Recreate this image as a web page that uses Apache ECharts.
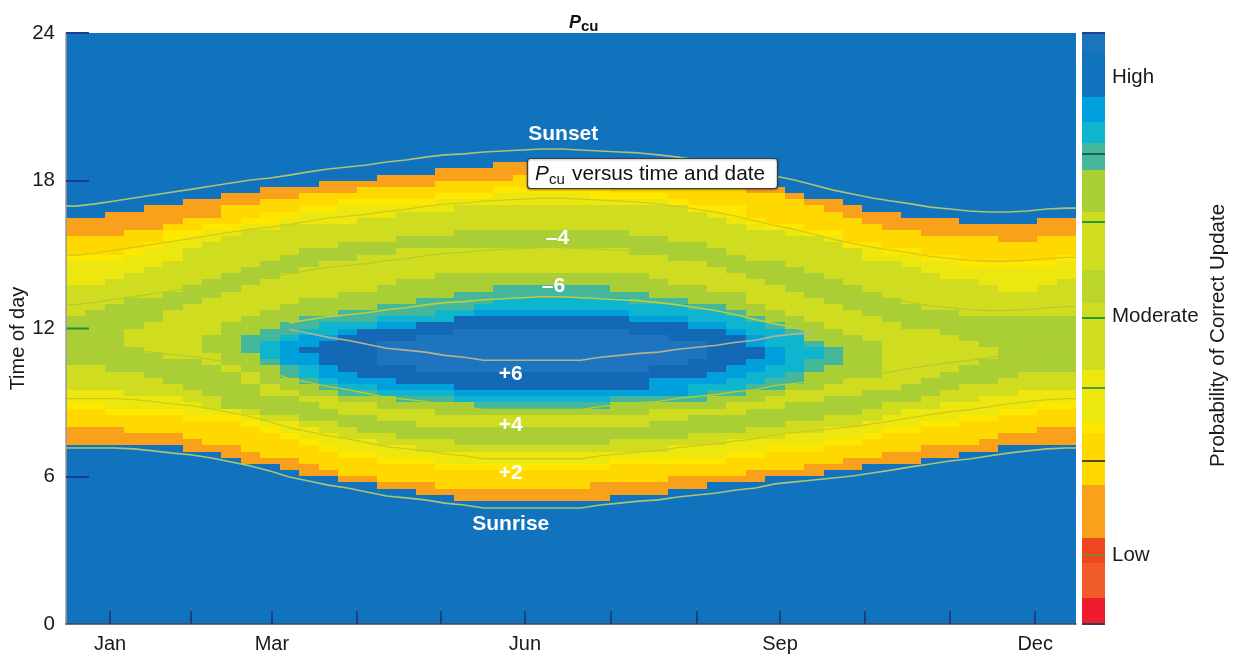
<!DOCTYPE html>
<html><head><meta charset="utf-8">
<style>html,body{margin:0;padding:0;background:#fff}#c{width:1234px;height:654px}</style>
<script src="https://cdn.jsdelivr.net/npm/echarts@6/dist/echarts.min.js"></script>
</head><body><div id="c"></div>
<script>
const __ = null;
// Time of day tick labels and month ticks (week-of-year positions)
const hourTicks = [6, 18, 24];
const hourMidTick = 12;
const monthTickWeeks = [2.27, 6.41, 10.6, 14.98, 19.28, 23.63, 28.06, 32.49, 36.76, 41.14, 45.5, 49.9];
const monthLabelWeeks = [2.27, 10.6, 23.63, 36.76, 49.9];
const monthLabels = ['Jan', 'Mar', 'Jun', 'Sep', 'Dec'];

// Band edges per week, in quarter-hour rows. "Top" = afternoon edge, "Bottom" = morning edge.
const orangeTop = [66,66,67,67,68,68,69,69,70,70,71,71,71,72,72,72,73,73,73,74,74,74,75,75,75,75,75,75,75,75,75,74,74,73,72,71,71,70,69,69,68,67,67,66,66,66,65,65,65,65,66,66];
const orangeBottom = [29,29,29,29,29,29,28,28,27,26,26,25,24,24,23,23,22,22,21,21,20,20,20,20,20,20,20,20,21,21,21,22,22,23,23,23,24,24,24,25,25,26,26,26,27,27,28,28,29,29,29,29];
const goldTop = [63,63,63,64,64,65,66,66,68,68,69,69,70,70,70,71,71,71,71,72,72,72,72,73,73,73,73,73,72,72,72,72,71,71,71,70,70,69,68,67,66,65,64,64,63,63,63,63,62,62,63,63];
const goldBottom = [32,32,32,31,31,31,30,29,29,28,27,27,26,25,24,24,23,23,23,22,22,22,22,22,22,22,22,23,23,23,23,24,24,24,24,25,25,25,26,26,27,27,28,28,29,29,29,30,31,31,32,32];
const brightTop = [60,60,60,61,62,64,64,65,65,66,67,67,68,68,69,69,69,69,69,70,70,70,71,71,71,71,71,71,70,70,70,69,68,68,68,66,65,65,64,64,62,62,61,61,60,60,59,59,59,59,59,60];
const brightBottom = [35,35,34,34,34,34,33,33,33,32,31,30,29,28,27,27,26,26,26,25,25,25,25,25,25,25,25,25,26,26,26,26,26,26,27,27,28,28,28,29,29,30,31,31,32,32,33,33,34,34,35,35];
const yellowTop = [59,59,59,60,61,62,63,64,64,65,65,66,67,67,68,68,68,68,68,69,69,69,70,70,70,70,70,69,69,69,69,68,67,67,66,65,64,64,63,63,61,61,60,60,59,59,58,58,58,58,58,59];
const yellowBottom = [36,36,35,35,35,35,34,34,34,33,32,31,30,29,28,28,27,27,27,26,26,26,26,26,26,26,26,26,27,27,27,27,27,27,28,28,29,29,29,30,30,31,32,32,33,33,34,34,35,35,36,36];
const limeTop = [55,55,56,57,58,59,61,62,63,64,64,65,65,65,65,66,66,67,67,67,68,68,68,68,68,68,68,68,68,68,68,68,67,66,65,64,64,63,63,62,61,59,59,58,57,56,56,55,54,54,55,56];
const limeBottom = [38,38,38,37,37,37,36,35,35,34,33,33,32,31,30,30,29,29,28,28,28,28,28,28,28,28,28,28,28,28,28,29,29,29,30,30,30,31,31,32,32,33,34,35,35,36,36,37,37,38,38,38];
const greenTop = [50,51,52,53,53,54,55,56,57,58,59,60,61,61,62,62,62,63,63,63,64,64,64,64,64,64,64,64,64,63,63,62,62,61,60,59,59,58,57,56,55,54,53,52,51,51,50,50,50,50,50,50];
const greenBottom = [42,42,41,41,40,39,38,37,35,35,34,34,33,33,32,31,31,30,30,30,29,29,29,29,29,29,29,29,30,30,30,30,31,31,31,32,32,33,33,34,34,35,36,36,37,38,39,39,40,41,41,41];
const lime2Top = [__,__,__,48,49,51,52,53,54,55,56,57,58,59,59,60,60,61,61,61,61,61,61,61,61,61,61,61,61,60,60,59,59,58,57,56,55,54,53,52,51,50,49,48,48,47,46,45,__,__,__,__];
const lime2Bottom = [__,__,__,45,44,43,43,42,41,39,37,37,36,35,34,34,33,33,32,32,32,32,32,32,32,32,32,32,32,32,33,33,34,34,34,35,35,36,36,37,37,38,38,39,40,41,42,43,__,__,__,__];
const green2Top = [__,__,__,__,__,__,__,47,49,50,51,52,53,53,54,54,55,56,56,57,57,57,57,57,57,57,57,57,57,57,56,55,55,54,54,52,51,50,49,48,47,46,__,__,__,__,__,__,__,__,__,__];
const green2Bottom = [__,__,__,__,__,__,__,44,42,41,39,38,37,37,36,36,35,35,35,34,34,34,34,34,34,34,34,34,34,34,35,35,35,35,36,36,37,38,38,39,40,40,__,__,__,__,__,__,__,__,__,__];
const tealTop = [__,__,__,__,__,__,__,__,__,47,48,49,50,50,51,51,52,52,53,53,54,54,55,55,55,55,55,55,54,54,53,53,52,52,51,50,49,48,46,45,__,__,__,__,__,__,__,__,__,__,__,__];
const tealBottom = [__,__,__,__,__,__,__,__,__,44,42,40,39,38,37,37,37,36,36,36,36,35,35,35,35,35,35,35,36,36,36,36,36,37,37,38,38,39,41,42,__,__,__,__,__,__,__,__,__,__,__,__];
const cyanTop = [__,__,__,__,__,__,__,__,__,__,46,47,48,49,49,49,50,50,50,51,51,52,53,53,53,53,53,53,53,52,52,52,51,51,50,49,48,47,45,__,__,__,__,__,__,__,__,__,__,__,__,__];
const cyanBottom = [__,__,__,__,__,__,__,__,__,__,43,42,40,39,38,38,37,37,37,37,36,36,36,36,36,36,36,36,37,37,37,37,37,38,38,39,40,41,43,__,__,__,__,__,__,__,__,__,__,__,__,__];
const skyTop = [__,__,__,__,__,__,__,__,__,__,__,46,47,47,48,48,49,49,49,49,50,51,51,51,51,51,51,51,51,50,50,50,49,49,48,47,45,__,__,__,__,__,__,__,__,__,__,__,__,__,__,__];
const skyBottom = [__,__,__,__,__,__,__,__,__,__,__,42,42,40,39,39,38,38,38,38,37,37,37,37,37,37,37,37,37,37,37,37,39,39,40,41,42,__,__,__,__,__,__,__,__,__,__,__,__,__,__,__];
const blueTop = [__,__,__,__,__,__,__,__,__,__,__,__,45,46,47,48,48,48,49,49,50,50,50,50,50,50,50,50,50,49,49,49,48,48,47,45,__,__,__,__,__,__,__,__,__,__,__,__,__,__,__,__];
const blueBottom = [__,__,__,__,__,__,__,__,__,__,__,__,44,42,41,40,40,39,39,39,38,38,38,38,38,38,38,38,38,38,40,40,40,41,42,43,__,__,__,__,__,__,__,__,__,__,__,__,__,__,__,__];
const paleTop = [__,__,__,__,__,__,__,__,__,__,__,__,__,__,__,__,46,46,47,47,48,48,48,48,48,48,48,48,48,47,47,46,46,__,__,__,__,__,__,__,__,__,__,__,__,__,__,__,__,__,__,__];
const paleBottom = [__,__,__,__,__,__,__,__,__,__,__,__,__,__,__,__,42,42,41,41,41,41,41,41,41,41,41,41,41,41,42,42,43,__,__,__,__,__,__,__,__,__,__,__,__,__,__,__,__,__,__,__];

// Sunrise, sunset and the hour-offset curves, in hours, week by week
const sunset = [16.97,17.06,17.18,17.30,17.42,17.54,17.66,17.79,17.91,18.03,18.11,18.23,18.36,18.48,18.56,18.64,18.76,18.84,18.96,19.05,19.09,19.17,19.21,19.25,19.29,19.29,19.25,19.21,19.17,19.13,19.05,18.96,18.84,18.72,18.56,18.36,18.19,18.03,17.83,17.62,17.46,17.30,17.18,17.06,16.93,16.85,16.77,16.73,16.73,16.77,16.85,16.89];
const sunsetM2 = [14.97,15.06,15.18,15.30,15.42,15.54,15.66,15.79,15.91,16.03,16.11,16.23,16.36,16.48,16.56,16.64,16.76,16.84,16.96,17.05,17.09,17.17,17.21,17.25,17.29,17.29,17.25,17.21,17.17,17.13,17.05,16.96,16.84,16.72,16.56,16.36,16.19,16.03,15.83,15.62,15.46,15.30,15.18,15.06,14.93,14.85,14.77,14.73,14.73,14.77,14.85,14.89];
const sunsetM4 = [12.97,13.06,13.18,13.30,13.42,13.54,13.66,13.79,13.91,14.03,14.11,14.23,14.36,14.48,14.56,14.64,14.76,14.84,14.96,15.05,15.09,15.17,15.21,15.25,15.29,15.29,15.25,15.21,15.17,15.13,15.05,14.96,14.84,14.72,14.56,14.36,14.19,14.03,13.83,13.62,13.46,13.30,13.18,13.06,12.93,12.85,12.77,12.73,12.73,12.77,12.85,12.89];
const sunsetM6 = [__,__,__,__,__,__,__,__,__,__,__,12.23,12.36,12.48,12.56,12.64,12.76,12.84,12.96,13.05,13.09,13.17,13.21,13.25,13.29,13.29,13.25,13.21,13.17,13.13,13.05,12.96,12.84,12.72,12.56,12.36,12.19,12.03,11.83,__,__,__,__,__,__,__,__,__,__,__,__,__];
const sunrise = [7.15,7.15,7.15,7.11,7.03,6.94,6.86,6.74,6.58,6.42,6.21,5.97,5.81,5.64,5.52,5.36,5.20,5.12,5.04,4.91,4.83,4.71,4.71,4.71,4.71,4.71,4.71,4.83,4.91,4.99,5.04,5.16,5.24,5.32,5.44,5.52,5.69,5.77,5.85,5.93,6.01,6.13,6.25,6.38,6.50,6.62,6.70,6.82,6.94,7.03,7.11,7.15];
const sunriseP2 = [9.15,9.15,9.15,9.11,9.03,8.94,8.86,8.74,8.58,8.42,8.21,7.97,7.81,7.64,7.52,7.36,7.20,7.12,7.04,6.91,6.83,6.71,6.71,6.71,6.71,6.71,6.71,6.83,6.91,6.99,7.04,7.16,7.24,7.32,7.44,7.52,7.69,7.77,7.85,7.93,8.01,8.13,8.25,8.38,8.50,8.62,8.70,8.82,8.94,9.03,9.11,9.15];
const sunriseP4 = [11.15,11.15,11.15,11.11,11.03,10.94,10.86,10.74,10.58,10.42,10.21,9.97,9.81,9.64,9.52,9.36,9.20,9.12,9.04,8.91,8.83,8.71,8.71,8.71,8.71,8.71,8.71,8.83,8.91,8.99,9.04,9.16,9.24,9.32,9.44,9.52,9.69,9.77,9.85,9.93,10.01,10.13,10.25,10.38,10.50,10.62,10.70,10.82,10.94,11.03,11.11,11.15];
const sunriseP6 = [__,__,__,__,__,__,__,__,__,__,__,11.97,11.81,11.64,11.52,11.36,11.20,11.12,11.04,10.91,10.83,10.71,10.71,10.71,10.71,10.71,10.71,10.83,10.91,10.99,11.04,11.16,11.24,11.32,11.44,11.52,11.69,11.77,11.85,__,__,__,__,__,__,__,__,__,__,__,__,__];

// Labels placed on the chart: [text, week, hour]
const curveNotes = [['Sunset',25.6,19.87],['Sunrise',22.9,4.07],['–4',25.3,15.65],['–6',25.1,13.70],['+6',22.9,10.13],['+4',22.9,8.09],['+2',22.9,6.14]];

// Colour scale
const bandColors = ['#1172be','#f9a11b','#ffd800','#ffe800','#ece80f','#cfdc20','#aacf36','#cfdc20','#aacf36','#45b79a','#0fb4cf','#00a0dc','#1469b6','#1e74bf'];
const barEdges = [1,.968,.892,.85,.814,.768,.697,.599,.543,.43,.34,.323,.235,.145,.103,.044,0];
const barColors = ['#1b75bc','#1172be','#00a0dc','#0fb4cf','#45b79a','#aacf36','#cfdc20','#bcd52c','#cfdc20','#ece80f','#ffe800','#ffd800','#f9a11b','#ee4623','#f15a29','#ed1c2e'];
const barTickValues = [1,.795,.68,.519,.399,.277,.117,0];
const barTickColors = ['#23408e','#1d5f5a','#2a9a3a','#1f9a3f','#4b9b3b','#4a4a30','#9a7a20','#3a3a5a'];
const scaleLabelValues = [.117,.52,.925];
const scaleLabels = ['Low','Moderate','High'];

const weekCount = 52, rowCount = 96, rowsPerHour = 4;
const bandEdges = [[orangeBottom,orangeTop],[goldBottom,goldTop],[brightBottom,brightTop],[yellowBottom,yellowTop],[limeBottom,limeTop],[greenBottom,greenTop],[lime2Bottom,lime2Top],[green2Bottom,green2Top],[tealBottom,tealTop],[cyanBottom,cyanTop],[skyBottom,skyTop],[blueBottom,blueTop],[paleBottom,paleTop]];
// Runs of equal band in each week column: [week, fromHour, toHour, band]
const cellRuns = [];
for(let c=0;c<weekCount;c++){
  let start=0,cur=-1;
  for(let r=0;r<=rowCount;r++){
    let v=-2;
    if(r<rowCount){ v=0; bandEdges.forEach((e,k)=>{ if(e[0][c]!==null && r>=e[0][c] && r<e[1][c]) v=k+1; }); }
    if(v!==cur){ if(cur>=0) cellRuns.push([c,start/rowsPerHour,r/rowsPerHour,cur]); start=r; cur=v; }
  }
}
function curvePoints(h){
  const p=[];
  h.forEach((v,i)=>{ if(v!==null){ if(i===0) p.push([0,v]); p.push([i+.5,v]); if(i===51) p.push([52,v]); } });
  return p;
}
function curve(name,h,color,width){
  return {name,type:'line',xAxisIndex:0,yAxisIndex:0,data:curvePoints(h),showSymbol:false,silent:true,z:4,
    lineStyle:{color,width:width||1.6},animation:false};
}
const FONT='"Liberation Sans", Arial, sans-serif';
const chart=echarts.init(document.getElementById('c'),null,{renderer:'canvas'});
chart.setOption({
  animation:false,
  backgroundColor:'#fff',
  textStyle:{fontFamily:FONT},
  grid:[{left:66,top:33,width:1010,height:591,outerBoundsMode:'none'},{left:1082,top:33,width:23,height:591,outerBoundsMode:'none'}],
  xAxis:[
    {gridIndex:0,type:'value',position:'bottom',min:0,max:52,z:10,splitLine:{show:false},
      axisLine:{show:true,lineStyle:{color:'#3d4a55',width:1.5}},
      axisTick:{show:true,inside:true,length:13,lineStyle:{color:'#1f3f7f',width:2},customValues:monthTickWeeks},
      axisLabel:{fontSize:20,color:'#1a1a1a',margin:10,fontFamily:FONT,customValues:monthLabelWeeks,
        formatter:v=>monthLabels[monthLabelWeeks.indexOf(v)]||''}},
    {gridIndex:1,type:'value',min:0,max:1,show:false}
  ],
  yAxis:[
    {gridIndex:0,type:'value',position:'left',min:0,max:24,interval:6,z:10,splitLine:{show:false},
      name:'Time of day',nameLocation:'middle',nameGap:38,nameRotate:90,nameMoveOverlap:false,
      nameTextStyle:{fontSize:20,color:'#1a1a1a',fontFamily:FONT,padding:[0,0,0,-20]},
      axisLine:{show:true,lineStyle:{color:'#9a9a9a',width:1.5}},
      axisTick:{show:true,inside:true,length:23,lineStyle:{color:'#1c3d8c',width:2},customValues:hourTicks},
      axisLabel:{fontSize:20.5,color:'#1a1a1a',margin:11,fontFamily:FONT,customValues:[0,6,12,18,24]}},
    {gridIndex:1,type:'value',min:0,max:1,position:'right',splitLine:{show:false},
      name:'Probability of Correct Update',nameLocation:'middle',nameGap:103,nameRotate:90,
      nameTextStyle:{fontSize:20.5,color:'#1a1a1a',fontFamily:FONT,padding:[0,14,0,0]},
      axisLine:{show:false},axisTick:{show:false},
      axisLabel:{fontSize:20.5,color:'#1a1a1a',margin:7,fontFamily:FONT,customValues:scaleLabelValues,
        formatter:v=>scaleLabels[scaleLabelValues.indexOf(v)]||''}}
  ],
  series:[
    {name:'Pcu',type:'custom',xAxisIndex:0,yAxisIndex:0,data:cellRuns,silent:true,z:2,
      encode:{x:0,y:[1,2]},
      renderItem:(params,api)=>{
        const a=api.coord([api.value(0),api.value(2)]),b=api.coord([api.value(0)+1,api.value(1)]);
        const x=Math.round(a[0]),y=Math.round(a[1]);
        return {type:'rect',shape:{x,y,width:Math.round(b[0])-x,height:Math.round(b[1])-y},
          style:{fill:bandColors[api.value(3)]}};
      }},
    curve('Sunset',sunset,'#a9c574'),
    curve('Sunset -2',sunsetM2,'#d2c91a',1.3),
    curve('Sunset -4',sunsetM4,'#b3cd2c',1.3),
    curve('Sunset -6',sunsetM6,'#bccd3e'),
    curve('Sunrise +6',sunriseP6,'#b3b28c'),
    curve('Sunrise +4',sunriseP4,'#b3cd2c',1.3),
    curve('Sunrise +2',sunriseP2,'#d2c91a',1.3),
    curve('Sunrise',sunrise,'#a9c574'),
    {name:'Hour 12 tick',type:'line',xAxisIndex:0,yAxisIndex:0,data:[[0,hourMidTick],[1.18,hourMidTick]],showSymbol:false,silent:true,z:5,
      lineStyle:{color:'#1d8f3d',width:2}},
    {name:'Notes',type:'scatter',xAxisIndex:0,yAxisIndex:0,symbolSize:1,silent:true,z:6,itemStyle:{color:'rgba(0,0,0,0)',opacity:1},
      data:curveNotes.map(n=>({name:n[0],value:[n[1],n[2]]})),
      label:{show:true,position:'inside',formatter:'{b}',color:'#fff',fontWeight:'bold',fontSize:21,fontFamily:FONT}},
    {name:'Scale',type:'custom',xAxisIndex:1,yAxisIndex:1,silent:true,z:3,clip:false,
      data:barColors.map((c,i)=>[barEdges[i+1],barEdges[i],i]),
      renderItem:(params,api)=>{
        const a=api.coord([0,api.value(1)]),b=api.coord([1,api.value(0)]);
        return {type:'rect',shape:{x:a[0],y:Math.round(a[1]),width:b[0]-a[0],height:Math.round(b[1])-Math.round(a[1])},style:{fill:barColors[api.value(2)]}};
      },
      markLine:{silent:true,symbol:'none',label:{show:false},animation:false,
        data:barTickValues.map((v,i)=>[{coord:[0,v],lineStyle:{color:barTickColors[i],width:2,type:'solid'}},{coord:[1,v]}])}}
  ],
  graphic:[
    {type:'text',z:100,x:569,y:14,style:{text:'P',font:'italic bold 18px '+FONT,fill:'#111'}},
    {type:'text',z:100,x:581,y:19,style:{text:'cu',font:'bold 15px '+FONT,fill:'#111'}},
    {type:'rect',z:100,shape:{x:527.5,y:158.5,width:250,height:30,r:3},
      style:{fill:'#fff',stroke:'#3a3f44',lineWidth:1.2,shadowBlur:2,shadowColor:'rgba(0,0,0,.35)',shadowOffsetY:1}},
    {type:'text',z:101,x:535,y:164,style:{text:'P',font:'italic 20.8px '+FONT,fill:'#111'}},
    {type:'text',z:101,x:549,y:172,style:{text:'cu',font:'15px '+FONT,fill:'#111'}},
    {type:'text',z:101,x:572,y:164,style:{text:'versus time and date',font:'20.8px '+FONT,fill:'#111'}}
  ]
});
</script></body></html>
